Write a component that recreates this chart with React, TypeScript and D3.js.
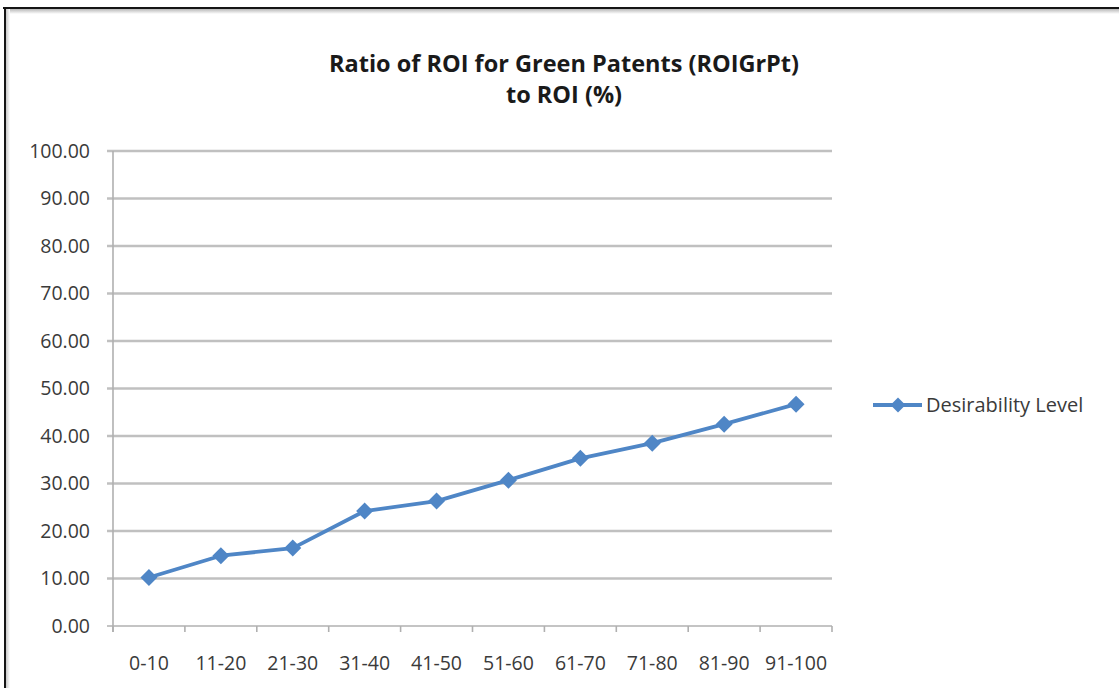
import React from "react";
import * as d3 from "d3";

const categories = ["0-10", "11-20", "21-30", "31-40", "41-50", "51-60", "61-70", "71-80", "81-90", "91-100"];
const values = [10.2, 14.8, 16.4, 24.2, 26.3, 30.7, 35.3, 38.5, 42.5, 46.7];
const yTicks = [0, 10, 20, 30, 40, 50, 60, 70, 80, 90, 100];
const titleLines = ["Ratio of ROI for Green Patents (ROIGrPt)", "to ROI (%)"];
const seriesName = "Desirability Level";

const W = 1119;
const H = 688;
const LEFT = 113;
const RIGHT = 832;
const TOP = 151;
const BOTTOM = 626;
const BLUE = "#4f86c6";
const GRID = "#c0c0c0";
const TEXT = "#3a3a3a";
const FONT = "'Open Sans', sans-serif";

function diamond(cx: number, cy: number, r: number) {
  return `M${cx},${cy - r}L${cx + r},${cy}L${cx},${cy + r}L${cx - r},${cy}Z`;
}

export default function App() {
  const x = d3.scaleBand<string>().domain(categories).range([LEFT, RIGHT]).paddingInner(0).paddingOuter(0);
  const y = d3.scaleLinear().domain([0, 100]).range([BOTTOM, TOP]);
  const line = d3
    .line<number>()
    .x((_, i) => (x(categories[i]) as number) + x.bandwidth() / 2)
    .y((d) => y(d));
  const boundaries = categories.map((c) => x(c) as number).concat([RIGHT]);

  return (
    <div style={{ position: "absolute", left: 0, top: 0 }}>
      <svg width={W} height={H} style={{ display: "block", background: "#fff" }}>
        <defs>
          <linearGradient id="shTop" x1="0" y1="0" x2="0" y2="1">
            <stop offset="0" stopColor="#b8b8b8" />
            <stop offset="1" stopColor="#ffffff" />
          </linearGradient>
          <linearGradient id="shLeft" x1="0" y1="0" x2="1" y2="0">
            <stop offset="0" stopColor="#c8c8c8" />
            <stop offset="1" stopColor="#ffffff" />
          </linearGradient>
        </defs>
        {/* frame */}
        <rect x={6} y={9} width={W - 6} height={5} fill="url(#shTop)" />
        <rect x={6} y={9} width={4} height={H - 9} fill="url(#shLeft)" />
        <rect x={3} y={7} width={W - 3} height={2} fill="#151515" />
        <rect x={4} y={7} width={2} height={H - 7} fill="#151515" />

        {/* title */}
        {titleLines.map((t, i) => (
          <text
            key={i}
            x={564}
            y={72 + i * 31}
            textAnchor="middle"
            fontFamily={FONT}
            fontWeight="bold"
            fontSize={23.5}
            fill="#1a1a1a"
          >
            {t}
          </text>
        ))}

        {/* gridlines and y labels */}
        {yTicks.map((t) => (
          <g key={t}>
            <line x1={LEFT - 6} x2={RIGHT} y1={y(t)} y2={y(t)} stroke={t === 0 ? "#b0b0b0" : GRID} strokeWidth={t === 0 ? 1.6 : 2.6} />
            <text x={90} y={y(t)} dy="0.35em" textAnchor="end" fontFamily={FONT} fontSize={19.5} fill={TEXT}>
              {t.toFixed(2)}
            </text>
          </g>
        ))}
        {/* y axis */}
        <line x1={LEFT} x2={LEFT} y1={TOP} y2={BOTTOM + 6} stroke="#b0b0b0" strokeWidth={1.6} />
        {/* x ticks */}
        {boundaries.map((b, i) => (
          <line key={i} x1={b} x2={b} y1={BOTTOM} y2={BOTTOM + 6} stroke="#b0b0b0" strokeWidth={1.6} />
        ))}
        {categories.map((c) => (
          <text
            key={c}
            x={(x(c) as number) + x.bandwidth() / 2}
            y={670}
            textAnchor="middle"
            fontFamily={FONT}
            fontSize={19.5}
            fill={TEXT}
          >
            {c}
          </text>
        ))}

        {/* series */}
        <path d={line(values) || ""} fill="none" stroke={BLUE} strokeWidth={3.8} strokeLinejoin="round" />
        {values.map((v, i) => (
          <path key={i} d={diamond((x(categories[i]) as number) + x.bandwidth() / 2, y(v), 8.5)} fill={BLUE} />
        ))}

        {/* legend */}
        <line x1={873} x2={922} y1={405} y2={405} stroke={BLUE} strokeWidth={3.8} />
        <path d={diamond(898, 405, 7.5)} fill={BLUE} />
        <text x={926} y={405} dy="0.35em" fontFamily={FONT} fontSize={20} fill={TEXT}>
          {seriesName}
        </text>
      </svg>
    </div>
  );
}
